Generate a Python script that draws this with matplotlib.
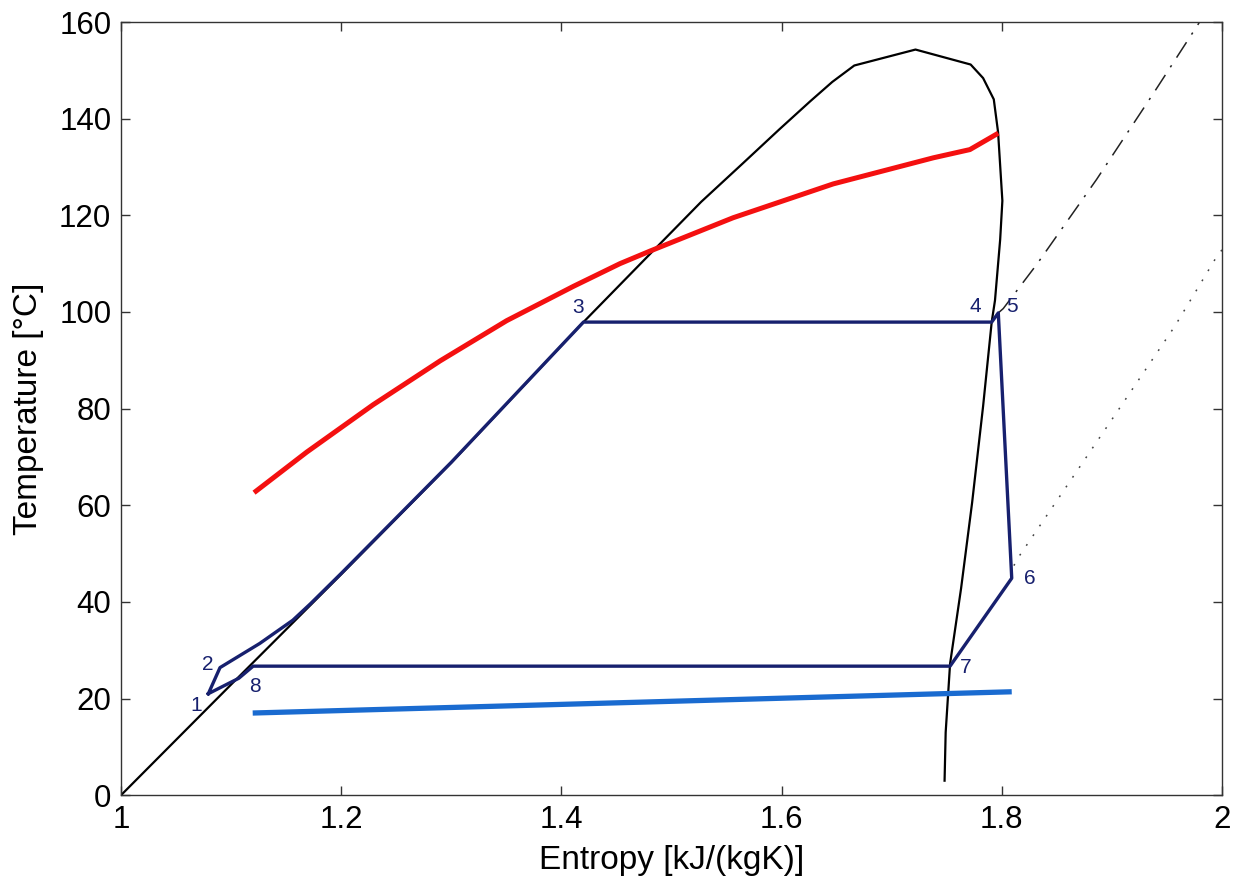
import numpy as np
import matplotlib
matplotlib.use("Agg")
import matplotlib.pyplot as plt

plt.rcParams['font.family'] = ['Liberation Sans', 'DejaVu Sans']

# saturation dome (liquid side up over the top, then down the vapour side)
dome_s = [1.000, 1.100, 1.200, 1.300, 1.420, 1.4805, 1.527, 1.565, 1.598, 1.626,
          1.646, 1.666, 1.7216, 1.7717, 1.783, 1.7927, 1.7966, 1.8005, 1.7985,
          1.7938, 1.7908, 1.783, 1.773, 1.763, 1.753, 1.749, 1.748]
dome_T = [0.0, 22.9, 45.7, 68.8, 97.9, 112.0, 122.8, 130.8, 137.8, 143.6,
          147.6, 151.0, 154.3, 151.2, 148.4, 144.0, 137.2, 123.0, 115.0,
          102.4, 97.9, 80.5, 60.5, 42.8, 27.2, 13.0, 3.0]

# heat source (hot stream) and cooling water
hot_s = [1.1208, 1.1687, 1.229, 1.290, 1.3503, 1.4109, 1.4532, 1.4805, 1.556,
         1.6469, 1.7378, 1.771, 1.7968]
hot_T = [62.6, 71.0, 80.8, 89.9, 98.2, 105.3, 110.0, 112.6, 119.5,
         126.5, 131.9, 133.6, 137.0]
cold_s = [1.1196, 1.809]
cold_T = [17.0, 21.4]

# cycle state points 1..8
state_s = [1.0793, 1.0899, 1.420, 1.7908, 1.7968, 1.809, 1.753, 1.120]
state_T = [21.0, 26.4, 97.9, 97.9, 99.8, 44.9, 26.7, 26.7]
state_names = ['1', '2', '3', '4', '5', '6', '7', '8']

# cycle path, including the preheating stretch along the liquid line
cycle_s = [1.0793, 1.0899, 1.126, 1.156, 1.172, 1.200, 1.300, 1.420, 1.7908,
           1.7968, 1.809, 1.753, 1.120, 1.107, 1.0793]
cycle_T = [21.0, 26.4, 31.4, 36.2, 39.6, 45.9, 68.9, 97.9, 97.9,
           99.8, 44.9, 26.7, 26.7, 24.2, 21.0]

# isobars continuing past the cycle
hp_s = [1.7968, 1.8013, 1.8316, 1.886, 1.9376, 1.9785, 1.990]
hp_T = [99.8, 100.7, 109.8, 127.4, 145.2, 159.6, 164.0]
lp_s = [1.811, 1.8135, 1.904, 1.957, 1.9937, 2.010]
lp_T = [47.5, 48.7, 79.1, 97.0, 110.9, 116.0]

label_offsets = [(-8.4, -8.4), (-9, 2), (-4, 10.6), (-12, 11),
                 (9.6, 4.4), (12.7, 0), (11.5, -0.7), (1.4, -14.3)]

navy = '#17206e'

fig = plt.figure(figsize=(12.4, 8.77), dpi=100)
ax = fig.add_axes([0.0976, 0.0933, 0.8879, 0.8816])

ax.plot(hp_s, hp_T, color='#222222', lw=1.1, dashes=(12, 6, 1.5, 6))
ax.plot(lp_s, lp_T, color='#444444', lw=1.1, dashes=(1.2, 6.5))
ax.plot(dome_s, dome_T, color='k', lw=1.6)
ax.plot(hot_s, hot_T, color='#f41010', lw=3.6, solid_capstyle='butt')
ax.plot(cold_s, cold_T, color='#1a6bd0', lw=3.8, solid_capstyle='butt')
ax.plot(cycle_s, cycle_T, color=navy, lw=2.4)

for name, s, T, off in zip(state_names, state_s, state_T, label_offsets):
    ax.annotate(name, (s, T), xytext=off, textcoords='offset points',
                ha='center', va='center', fontsize=15, color=navy)

ax.set_xlim(1, 2)
ax.set_ylim(0, 160)
ax.set_xticks([1, 1.2, 1.4, 1.6, 1.8, 2])
ax.set_xticklabels(['1', '1.2', '1.4', '1.6', '1.8', '2'])
ax.set_yticks(np.arange(0, 161, 20))
ax.tick_params(direction='in', length=6.5, width=1.0, top=True, right=True,
               labelsize=22.5, pad=7, color='#333333')
for sp in ax.spines.values():
    sp.set_color('#333333')
    sp.set_linewidth(1.0)

ax.set_xlabel('Entropy [kJ/(kgK)]', fontsize=24, labelpad=7)
ax.set_ylabel('Temperature [°C]', fontsize=24, labelpad=11)

fig.savefig('out.png', dpi=100)
